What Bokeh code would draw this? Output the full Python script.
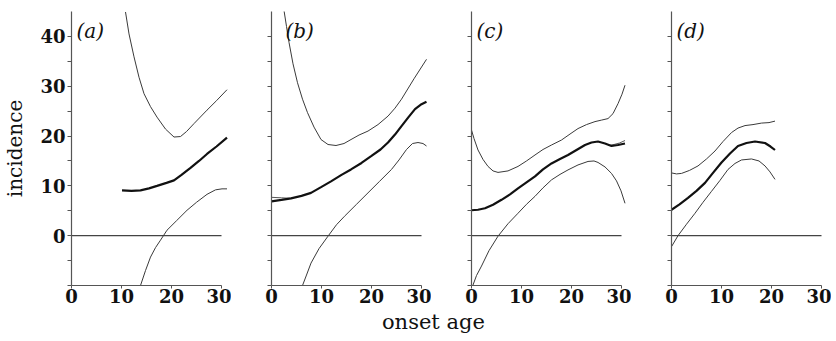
from bokeh.plotting import figure
from bokeh.layouts import row, column
from bokeh.models import FixedTicker, Label, Range1d
from bokeh.embed import file_html
from bokeh.resources import INLINE

# ---------------- data ----------------
x_ticks = [0, 10, 20, 30]
y_major = [0, 10, 20, 30, 40]
y_minor = [-10, -5, 5, 15, 25, 35]
y_all = [-10, -5, 0, 5, 10, 15, 20, 25, 30, 35, 40]
zero_x = [0, 30]
zero_y = [0, 0]
panel_labels = ["(a)", "(b)", "(c)", "(d)"]

# panel (a)
a_up_x = [10.8, 11.5, 12.5, 13.5, 14.5, 15.8, 17.1, 18.8, 20.5, 21.8, 23.0, 24.5, 27.1, 29.0, 31.1]
a_up_y = [44.9, 40.5, 35.9, 31.8, 28.5, 25.9, 23.8, 21.4, 19.8, 19.9, 20.9, 22.5, 25.2, 27.1, 29.3]
a_mid_x = [10.1, 12.0, 13.8, 15.5, 17.1, 19.0, 20.5, 22.0, 23.8, 25.5, 27.1, 29.0, 31.1]
a_mid_y = [9.1, 9.0, 9.1, 9.5, 10.0, 10.6, 11.1, 12.2, 13.6, 15.0, 16.4, 17.9, 19.7]
a_low_x = [13.8, 14.8, 15.8, 16.8, 17.8, 19.1, 21.0, 23.1, 25.0, 27.1, 28.8, 30.1, 31.1]
a_low_y = [-10.0, -7.0, -4.3, -2.4, -0.9, 1.1, 3.0, 5.1, 6.7, 8.3, 9.2, 9.4, 9.4]

# panel (b)
b_up_x = [2.5, 3.0, 3.5, 4.3, 5.2, 6.2, 7.2, 8.5, 9.9, 11.3, 12.9, 14.5, 15.9, 17.5, 19.3, 21.3, 23.3, 24.7, 26.0, 28.5, 31.0]
b_up_y = [45.2, 42.0, 38.8, 34.5, 30.7, 27.4, 24.7, 21.8, 19.3, 18.3, 18.1, 18.5, 19.3, 20.2, 21.0, 22.3, 24.0, 25.6, 27.4, 31.5, 35.4]
b_mid_x = [0, 2, 3.9, 6, 7.9, 10, 11.9, 14, 15.9, 18, 20, 21.8, 23.3, 24.7, 26, 27.4, 28.7, 30, 31]
b_mid_y = [6.9, 7.2, 7.5, 8.0, 8.6, 9.8, 10.9, 12.2, 13.3, 14.6, 16.0, 17.3, 18.7, 20.3, 22.0, 23.8, 25.4, 26.4, 26.9]
b_alt_x = [0, 2, 3.9]
b_alt_y = [7.7, 7.6, 7.5]
b_low_x = [6.2, 7.0, 7.9, 9.5, 11.3, 13.0, 14.6, 17.0, 19.3, 21.6, 24.0, 25.5, 27.0, 28.2, 29.3, 30.3, 31.0]
b_low_y = [-10.0, -7.9, -5.5, -2.6, -0.1, 2.2, 3.9, 6.3, 8.6, 10.9, 13.3, 15.2, 17.3, 18.5, 18.7, 18.5, 18.0]

# panel (c)
c_up_x = [0, 0.5, 1.3, 2.3, 3.3, 4.3, 5.3, 7.3, 9.3, 11, 12.7, 14.3, 16, 18, 19.7, 21.3, 23, 24.7, 26, 27.3, 28.3, 29.3, 30.1, 30.7]
c_up_y = [21.2, 19.5, 17.2, 15.3, 13.9, 13.0, 12.7, 13.0, 13.9, 15.0, 16.2, 17.3, 18.2, 19.2, 20.4, 21.5, 22.3, 22.9, 23.2, 23.5, 24.5, 26.5, 28.4, 30.2]
c_mid_x = [0, 1.3, 2.7, 4.3, 6, 7.7, 9.3, 11, 12.7, 14.3, 16, 17.7, 19.3, 21, 22.7, 24, 25.3, 26.7, 28, 29.3, 30.7]
c_mid_y = [5.1, 5.2, 5.5, 6.2, 7.2, 8.3, 9.5, 10.7, 11.9, 13.3, 14.5, 15.4, 16.2, 17.2, 18.2, 18.7, 18.9, 18.5, 18.0, 18.2, 18.5]
c_alt_x = [27.3, 28.5, 29.6, 30.7]
c_alt_y = [18.1, 18.3, 18.6, 19.1]
c_low_x = [0.3, 1.0, 2.0, 3.5, 5.3, 7.3, 9.3, 11, 12.7, 14.3, 16, 17.7, 19.3, 21.3, 23.3, 24.5, 25.3, 26.7, 28, 29, 29.9, 30.7]
c_low_y = [-9.9, -8.0, -6.1, -3.0, -0.1, 2.4, 4.5, 6.3, 7.9, 9.6, 11.2, 12.3, 13.2, 14.2, 14.9, 15.0, 14.7, 13.8, 12.5, 11.0, 9.0, 6.5]

# panel (d)
d_up_x = [0, 1, 2, 3.6, 5.3, 7, 8.7, 10.3, 12, 13.3, 14.7, 16.3, 18, 19.5, 20.7]
d_up_y = [12.6, 12.4, 12.5, 13.1, 14.0, 15.4, 17.0, 18.9, 20.7, 21.6, 22.1, 22.3, 22.6, 22.7, 23.0]
d_mid_x = [0, 1.6, 3.3, 5, 6.7, 8.3, 10, 11.7, 13.3, 15, 16.7, 18.7, 19.8, 20.7]
d_mid_y = [5.2, 6.3, 7.6, 9.0, 10.6, 12.6, 14.7, 16.5, 18.0, 18.6, 18.9, 18.6, 17.9, 17.2]
d_low_x = [0, 1.3, 3, 4.7, 6.3, 8, 9.7, 11.3, 12.7, 14, 16, 17.5, 18.7, 19.7, 20.7]
d_low_y = [-2.2, 0.0, 2.3, 4.5, 6.7, 8.9, 11.1, 13.3, 14.5, 15.2, 15.4, 15.0, 14.0, 12.8, 11.3]

panels = [
    dict(up=(a_up_x, a_up_y), mid=(a_mid_x, a_mid_y), low=(a_low_x, a_low_y), alt=None, lx=1.0),
    dict(up=(b_up_x, b_up_y), mid=(b_mid_x, b_mid_y), low=(b_low_x, b_low_y), alt=(b_alt_x, b_alt_y), lx=2.8),
    dict(up=(c_up_x, c_up_y), mid=(c_mid_x, c_mid_y), low=(c_low_x, c_low_y), alt=(c_alt_x, c_alt_y), lx=1.0),
    dict(up=(d_up_x, d_up_y), mid=(d_mid_x, d_mid_y), low=(d_low_x, d_low_y), alt=None, lx=1.0),
]

SERIF = "DejaVu Serif"
FRAME_W = 160
FRAME_H = 274
TOP = 11
BOTTOM = 22
THIN = "#3a3a3a"
THICK = "#111111"

figs = []
for i, pd in enumerate(panels):
    left = 71 if i == 0 else 40
    p = figure(width=left + FRAME_W, height=TOP + FRAME_H + BOTTOM,
               x_range=Range1d(0, 32), y_range=Range1d(-10, 45),
               output_backend="svg", toolbar_location=None,
               min_border_left=left, min_border_right=0,
               min_border_top=TOP, min_border_bottom=BOTTOM)
    p.outline_line_color = None
    p.grid.visible = False
    p.background_fill_color = "white"
    p.border_fill_color = "white"

    # x axis
    xa = p.xaxis[0]
    xa.ticker = FixedTicker(ticks=x_ticks, minor_ticks=[])
    xa.bounds = (0, 30)
    xa.axis_line_color = "#555555"
    xa.axis_line_width = 1.2
    xa.major_tick_line_color = "#555555"
    xa.major_tick_in = 0
    xa.major_tick_out = 3
    xa.major_label_standoff = 0
    xa.major_label_text_font = SERIF
    xa.major_label_text_font_style = "bold"
    xa.major_label_text_font_size = "18px"
    xa.major_label_text_color = "#111111"

    # y axis
    ya = p.yaxis[0]
    if i == 0:
        ya.ticker = FixedTicker(ticks=y_major, minor_ticks=y_minor)
        ya.axis_label = "incidence"
        ya.axis_label_text_font = SERIF
        ya.axis_label_text_font_style = "normal"
        ya.axis_label_text_font_size = "20px"
        ya.axis_label_text_color = "#111111"
        ya.axis_label_standoff = 10
    else:
        ya.ticker = FixedTicker(ticks=[], minor_ticks=y_all)
    ya.axis_line_color = "#555555"
    ya.axis_line_width = 1.2
    ya.major_tick_line_color = "#555555"
    ya.minor_tick_line_color = "#555555"
    ya.major_tick_in = 0
    ya.major_tick_out = 4
    ya.minor_tick_in = 0
    ya.minor_tick_out = 4
    ya.major_label_standoff = 2
    ya.major_label_text_font = SERIF
    ya.major_label_text_font_style = "bold"
    ya.major_label_text_font_size = "18px"
    ya.major_label_text_color = "#111111"

    # zero line
    p.line(zero_x, zero_y, line_color="#444444", line_width=1.2)
    # curves
    p.line(*pd["up"], line_color=THIN, line_width=1)
    p.line(*pd["low"], line_color=THIN, line_width=1)
    if pd["alt"] is not None:
        p.line(*pd["alt"], line_color="#555555", line_width=1)
    p.line(*pd["mid"], line_color=THICK, line_width=2.2)

    p.add_layout(Label(x=pd["lx"], y=43.5, text=panel_labels[i],
                       text_font=SERIF, text_font_style="italic",
                       text_font_size="20px", text_color="#111111",
                       text_baseline="top", text_align="left"))
    figs.append(p)

footer = figure(width=823, height=32, x_range=Range1d(0, 1), y_range=Range1d(0, 1),
                output_backend="svg", toolbar_location=None,
                min_border=0)
footer.axis.visible = False
footer.grid.visible = False
footer.outline_line_color = None
footer.add_layout(Label(x=0.526, y=0.55, text="onset age", text_font=SERIF,
                        text_font_size="21px", text_color="#111111",
                        text_align="center", text_baseline="middle"))

layout = column(row(*figs, spacing=0), footer, spacing=0)
open("out.html", "w").write(file_html(layout, INLINE))
